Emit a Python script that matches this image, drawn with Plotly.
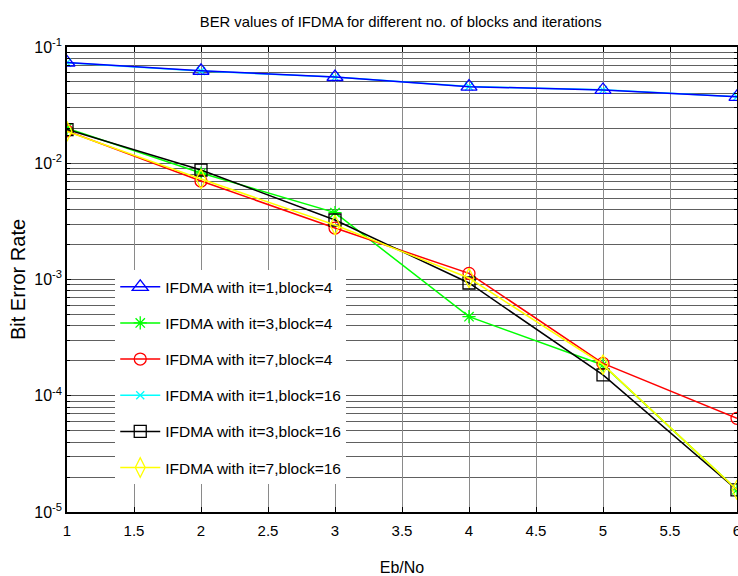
import plotly.graph_objects as go

eb_no = [1, 2, 3, 4, 5, 6]

ber_it1_b4 = [0.0736, 0.0625, 0.0552, 0.0456, 0.0427, 0.0373]
ber_it3_b4 = [0.0200, 0.00824, 0.00376, 0.000479, 0.000184, 0.0000155]
ber_it7_b4 = [0.0190, 0.00704, 0.00277, 0.00113, 0.000190, 0.0000640]
ber_it1_b16 = [0.0733, 0.0622, 0.0551, 0.0458, 0.0428, 0.0373]
ber_it3_b16 = [0.0195, 0.00875, 0.00325, 0.000933, 0.000151, 0.0000155]
ber_it7_b16 = [0.0188, 0.00732, 0.00294, 0.00103, 0.000185, 0.0000155]

names = [
    "IFDMA with it=1,block=4",
    "IFDMA with it=3,block=4",
    "IFDMA with it=7,block=4",
    "IFDMA with it=1,block=16",
    "IFDMA with it=3,block=16",
    "IFDMA with it=7,block=16",
]
series = [ber_it1_b4, ber_it3_b4, ber_it7_b4, ber_it1_b16, ber_it3_b16, ber_it7_b16]
colors = ["#0000ff", "#00ff00", "#ff0000", "#00ffff", "#000000", "#ffff00"]
symbols = ["triangle-up-open", "asterisk-open", "circle-open", "x-thin-open", "square-open", "diamond-tall-open"]
sizes = [14, 11, 12, 8, 12, 14]
draw_order = [3, 0, 1, 2, 4, 5]

x_ticks = [1, 1.5, 2, 2.5, 3, 3.5, 4, 4.5, 5, 5.5, 6]
x_labels = ["1", "1.5", "2", "2.5", "3", "3.5", "4", "4.5", "5", "5.5", "6"]
decades = [-5, -4, -3, -2, -1]

major_vals = [10.0 ** d for d in decades]
major_text = ["10<sup>%d</sup>" % d for d in decades]
minor_vals = [m * 10.0 ** d for d in decades[:-1] for m in range(2, 10)]

FONT = "Liberation Sans, Arial"

fig = go.Figure()
for i in draw_order:
    fig.add_trace(go.Scatter(
        x=eb_no, y=series[i], name=names[i], mode="lines+markers",
        line=dict(color=colors[i], width=1.5),
        marker=dict(symbol=symbols[i], size=sizes[i], color=colors[i],
                    line=dict(color=colors[i], width=1.3)),
        legendgroup="g%d" % i, legendrank=i + 1,
    ))

fig.update_layout(
    width=738, height=576,
    margin=dict(l=67, r=1, t=47, b=64),
    paper_bgcolor="white", plot_bgcolor="white",
    title=dict(text="BER values of IFDMA for different no. of blocks and iterations",
               x=0.543, xanchor="center", y=0.962, yanchor="middle",
               font=dict(family=FONT, size=14.8, color="#000")),
    font=dict(family=FONT, size=14, color="#000"),
    xaxis=dict(
        range=[1, 6], tickvals=x_ticks, ticktext=x_labels,
        ticks="inside", ticklen=5, tickcolor="#000", mirror="ticks",
        showline=True, linecolor="#000", linewidth=1.5,
        showgrid=True, gridcolor="#8a8a8a", gridwidth=1,
        zeroline=False, automargin=False, ticklabelstandoff=4,
        ticklabeloverflow="allow",
        title=dict(text="Eb/No", font=dict(family=FONT, size=16), standoff=33),
        tickfont=dict(family=FONT, size=15),
    ),
    yaxis=dict(
        type="log", range=[-5, -1], tickvals=major_vals, ticktext=major_text,
        ticks="inside", ticklen=4, tickcolor="#000", mirror="ticks",
        showline=True, linecolor="#000", linewidth=1.5,
        showgrid=True, gridcolor="#555555", gridwidth=1,
        zeroline=False, automargin=False,
        minor=dict(tickmode="array", tickvals=minor_vals, ticks="inside", ticklen=3,
                   tickcolor="#000", showgrid=True, gridcolor="#606060", gridwidth=1),
        title=dict(text="Bit Error Rate",
                   font=dict(family=FONT, size=20), standoff=3),
        tickfont=dict(family=FONT, size=16),
    ),
    legend=dict(
        x=0.072, y=0.520, xanchor="left", yanchor="top",
        bgcolor="white", borderwidth=0,
        font=dict(family=FONT, size=15.5, color="#000"),
        tracegroupgap=13, itemwidth=40,
    ),
)

fig.write_html(
    "out.html",
    config={"displayModeBar": False},
    post_script="document.body.style.margin='0';document.body.style.overflow='hidden';",
)
